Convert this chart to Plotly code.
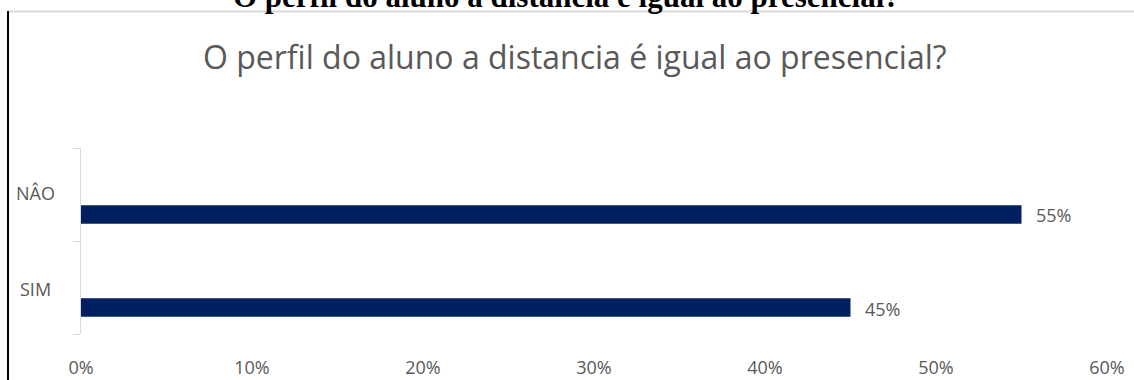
import plotly.graph_objects as go

categories = ["SIM", "NÂO"]
values = [0.45, 0.55]
value_labels = ["45%", "55%"]
x_ticks = [0, 0.1, 0.2, 0.3, 0.4, 0.5, 0.6]
x_tick_labels = ["0%", "10%", "20%", "30%", "40%", "50%", "60%"]
chart_title = "O perfil do aluno a distancia é igual ao presencial?"
doc_title = "O perfil do aluno a distancia é igual ao presencial?"

W, H = 1134, 380
L, R, T, B = 81, 27, 148, 46
pw, ph = W - L - R, H - T - B

def px(x):
    return (x - L) / pw

def py(y):
    return (H - B - y) / ph

BAR_W, BAR_OFF = 0.2, -0.315

fig = go.Figure()
fig.add_trace(go.Bar(
    y=categories, x=values, orientation="h",
    width=BAR_W, offset=BAR_OFF,
    marker=dict(color="#002060", line=dict(width=0)),
    hoverinfo="skip",
))

annotations = []
for i, (c, v, t) in enumerate(zip(categories, values, value_labels)):
    annotations.append(dict(
        x=v, xref="x", y=i + BAR_OFF + BAR_W / 2, yref="y",
        text=t, showarrow=False, xanchor="left", yanchor="middle", xshift=12, yshift=-1,
        font=dict(family="Open Sans", size=18, color="#595959"),
    ))
    annotations.append(dict(
        x=px(35), xref="paper", y=c, yref="y", yshift=2 if c == "NÂO" else -1,
        text=c, showarrow=False, xanchor="center", yanchor="middle",
        font=dict(family="Open Sans", size=18, color="#595959"),
    ))
annotations.append(dict(
    x=px(575), xref="paper", y=py(56), yref="paper", text=chart_title,
    showarrow=False, xanchor="center", yanchor="middle",
    font=dict(family="Open Sans", size=32, color="#595959"),
))
annotations.append(dict(
    x=px(566), xref="paper", y=py(16), yref="paper", text="<b>" + doc_title + "</b>",
    showarrow=False, xanchor="center", yanchor="bottom",
    font=dict(family="Liberation Serif", size=31, color="#000000"),
))

shapes = [
    dict(type="line", xref="paper", yref="paper", x0=px(8), x1=px(1134), y0=py(11.5), y1=py(11.5),
         line=dict(color="#d9d9d9", width=2)),
    dict(type="line", xref="paper", yref="paper", x0=px(8), x1=px(8), y0=py(11), y1=py(380),
         line=dict(color="#000000", width=2)),
]

fig.update_layout(
    template="none",
    width=W, height=H,
    margin=dict(l=L, r=R, t=T, b=B, pad=0, autoexpand=False),
    paper_bgcolor="white", plot_bgcolor="white",
    showlegend=False,
    annotations=annotations, shapes=shapes,
    xaxis=dict(
        automargin=False,
        range=[0, 0.6], tickvals=x_ticks, ticktext=x_tick_labels,
        showgrid=False, zeroline=False, showline=False,
        ticks="outside", ticklen=17, tickcolor="rgba(0,0,0,0)",
        tickfont=dict(family="Open Sans", size=18, color="#595959"),
        fixedrange=True,
    ),
    yaxis=dict(
        automargin=False,
        type="category", categoryorder="array", categoryarray=categories,
        range=[-0.5, 1.5], showgrid=False, zeroline=False,
        showline=True, linecolor="#d9d9d9", linewidth=1,
        ticks="outside", ticklen=7, tickcolor="#d9d9d9", tickwidth=1,
        tickson="boundaries", showticklabels=False,
        fixedrange=True,
    ),
)

fig.write_html("out.html", config={"displayModeBar": False},
               post_script="document.body.style.margin='0';")
